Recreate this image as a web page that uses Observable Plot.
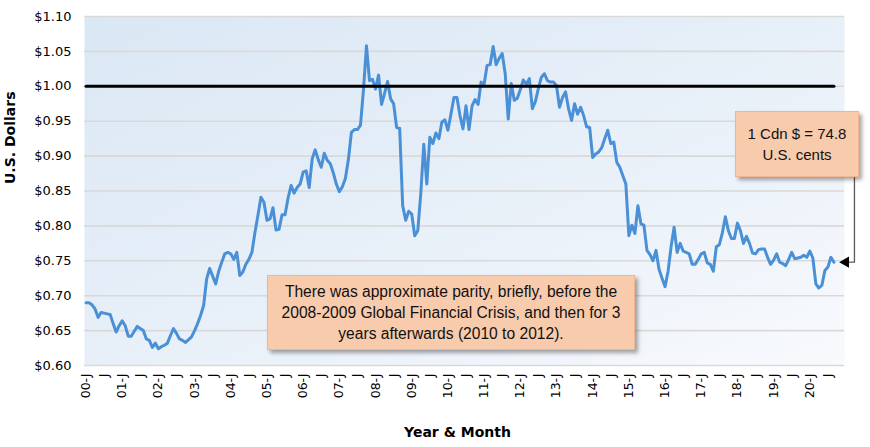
<!DOCTYPE html>
<html>
<head>
<meta charset="utf-8">
<script src="https://cdn.jsdelivr.net/npm/d3@7"></script>
<script src="https://cdn.jsdelivr.net/npm/@observablehq/plot@0.6"></script>
<style>
  body { margin: 0; background: #fff; }
  #wrap { position: relative; width: 870px; height: 447px; }
  .note {
    position: absolute; box-sizing: border-box;
    background: #f8cbad; border: 1px solid #f2b58d;
    box-shadow: 3px 3px 4px rgba(0,0,0,0.35);
    font-family: "Liberation Sans", Arial, sans-serif; color: #111;
    text-align: center; display: flex; align-items: center; justify-content: center;
  }
</style>
</head>
<body>
<div id="wrap"></div>
<script>
// Monthly value of 1 Canadian dollar in U.S. dollars (Jan 2000 – Sep 2020)
const y2000 = [0.690,0.690,0.687,0.681,0.669,0.676,0.675,0.674,0.673,0.660,0.648,0.657];
const y2001 = [0.664,0.657,0.642,0.642,0.649,0.656,0.653,0.650,0.638,0.636,0.626,0.632];
const y2002 = [0.624,0.627,0.629,0.632,0.643,0.653,0.646,0.638,0.636,0.633,0.637,0.641];
const y2003 = [0.650,0.660,0.672,0.686,0.724,0.739,0.728,0.717,0.735,0.748,0.760,0.762];
const y2004 = [0.760,0.752,0.762,0.729,0.734,0.745,0.752,0.762,0.790,0.815,0.841,0.834];
const y2005 = [0.808,0.810,0.826,0.794,0.795,0.816,0.816,0.840,0.858,0.847,0.855,0.860];
const y2006 = [0.877,0.879,0.855,0.896,0.909,0.895,0.884,0.904,0.894,0.889,0.876,0.860];
const y2007 = [0.849,0.856,0.868,0.895,0.934,0.938,0.938,0.944,0.995,1.058,1.008,1.010];
const y2008 = [0.996,1.016,0.974,0.990,1.007,0.982,0.975,0.941,0.940,0.829,0.808,0.821];
const y2009 = [0.817,0.786,0.793,0.846,0.917,0.860,0.927,0.918,0.933,0.925,0.949,0.952];
const y2010 = [0.937,0.960,0.984,0.984,0.958,0.939,0.972,0.938,0.972,0.981,0.974,1.006];
const y2011 = [1.003,1.030,1.031,1.057,1.031,1.040,1.047,1.018,0.953,1.004,0.980,0.983];
const y2012 = [0.995,1.009,1.003,1.011,0.968,0.978,0.997,1.013,1.018,1.008,1.006,1.006];
const y2013 = [1.001,0.970,0.984,0.992,0.968,0.951,0.975,0.960,0.970,0.958,0.942,0.941];
const y2014 = [0.898,0.903,0.906,0.912,0.925,0.937,0.918,0.920,0.891,0.884,0.872,0.860];
const y2015 = [0.786,0.801,0.789,0.829,0.803,0.801,0.765,0.759,0.750,0.765,0.738,0.725];
const y2016 = [0.713,0.735,0.770,0.798,0.762,0.775,0.764,0.762,0.760,0.745,0.745,0.752];
const y2017 = [0.760,0.762,0.747,0.745,0.735,0.770,0.773,0.790,0.813,0.793,0.782,0.782];
const y2018 = [0.804,0.793,0.775,0.785,0.775,0.761,0.760,0.766,0.767,0.767,0.755,0.745];
const y2019 = [0.751,0.760,0.748,0.746,0.743,0.752,0.762,0.753,0.754,0.755,0.758,0.755];
const y2020 = [0.764,0.754,0.717,0.711,0.715,0.736,0.741,0.755,0.748];

const parityValue = 1.00;

const yTicks = [0.60, 0.65, 0.70, 0.75, 0.80, 0.85, 0.90, 0.95, 1.00, 1.05, 1.10];
const xTickLabels = [
  "00-J","J","01-J","J","02-J","J","03-J","J","04-J","J","05-J","J","06-J","J",
  "07-J","J","08-J","J","09-J","J","10-J","J","11-J","J","12-J","J","13-J","J",
  "14-J","J","15-J","J","16-J","J","17-J","J","18-J","J","19-J","J","20-J","J"
];
const monthsPerTick = 6;
const categoryCount = 252; // Jan 2000 .. Dec 2020 category slots

const noteParity = "There was approximate parity, briefly, before the<br>2008-2009 Global Financial Crisis, and then for 3<br>years afterwards (2010 to 2012).";
const noteLast = "1 Cdn $ = 74.8<br>U.S. cents";

// ---- build table ----
const values = [].concat(y2000,y2001,y2002,y2003,y2004,y2005,y2006,y2007,y2008,y2009,
                         y2010,y2011,y2012,y2013,y2014,y2015,y2016,y2017,y2018,y2019,y2020);
const rows = values.map((v, i) => ({i, v}));
const lastIdx = values.length - 1;
const lastVal = values[lastIdx];
const xTicks = xTickLabels.map((_, k) => k * monthsPerTick);

// callout connector layout (in category units beyond the last point)
const calloutBottom = 0.869;
const conn = [[lastIdx + 6.8, calloutBottom], [lastIdx + 6.8, lastVal], [lastIdx + 4.6, lastVal]];

const chart = Plot.plot({
  width: 870,
  height: 447,
  marginLeft: 84,
  marginRight: 26,
  marginTop: 16,
  marginBottom: 82,
  style: {fontFamily: "DejaVu Sans, sans-serif", fontSize: "13px", color: "#000", background: "transparent", overflow: "visible"},
  x: {domain: [-0.5, categoryCount - 0.5]},
  y: {domain: [0.60, 1.10]},
  marks: [
    Plot.frame({fill: "url(#bgGrad)", stroke: "none"}),
    Plot.ruleY(yTicks, {stroke: "#d9d9d9", strokeWidth: 1.6}),
    Plot.line(rows, {x: "i", y: "v", stroke: "#4a90d6", strokeWidth: 3, strokeLinejoin: "round"}),
    Plot.line(rows, {x: "i", y: () => parityValue, stroke: "#000", strokeWidth: 3}),
    Plot.axisY({ticks: yTicks, tickFormat: d => "$" + d.toFixed(2), tickSize: 0, tickPadding: 13, fontSize: 13, label: null}),
    Plot.axisX({ticks: xTicks, tickFormat: d => xTickLabels[d / monthsPerTick], tickRotate: -90, tickSize: 0, tickPadding: 8, fontSize: 12.5, label: null}),
    Plot.text(["U.S. Dollars"], {text: d => d, frameAnchor: "left", dx: -74, dy: -7, rotate: -90, fontWeight: "bold", fontSize: 14}),
    Plot.text(["Year & Month"], {text: d => d, frameAnchor: "bottom", dx: -7, dy: 71, fontWeight: "bold", fontSize: 14}),
    Plot.line(conn, {x: d => d[0], y: d => d[1], stroke: "#595959", strokeWidth: 1.3}),
    Plot.dot([[lastIdx + 3.9, lastVal]], {x: d => d[0], y: d => d[1], symbol: "triangle", rotate: -90, r: 4.2, fill: "#000", stroke: "none"})
  ]
});

d3.select(chart).insert("defs", ":first-child").html(
  '<linearGradient id="bgGrad" x1="0" y1="0" x2="1" y2="1">' +
  '<stop offset="0" stop-color="#dae7f4"/><stop offset="0.6" stop-color="#eaf1f9"/><stop offset="1" stop-color="#f8fafd"/>' +
  '</linearGradient>');

const wrap = document.getElementById("wrap");
wrap.appendChild(chart);

function addNote(html, left, top, w, h, fs) {
  const d = document.createElement("div");
  d.className = "note";
  d.style.left = left + "px"; d.style.top = top + "px";
  d.style.width = w + "px"; d.style.height = h + "px";
  d.style.fontSize = fs + "px"; d.style.lineHeight = "21px";
  d.innerHTML = "<div>" + html + "</div>";
  wrap.appendChild(d);
}
addNote(noteParity, 267, 275, 368, 75, 15.6);
addNote(noteLast, 735, 111, 124, 66, 15);
</script>
</body>
</html>
